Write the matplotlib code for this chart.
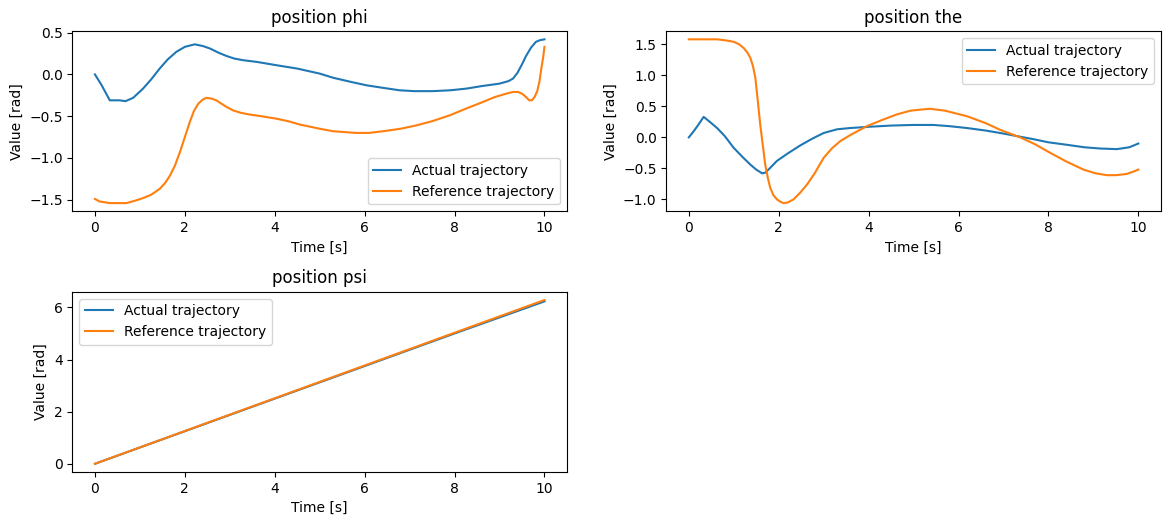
import numpy as np
import matplotlib
matplotlib.use("Agg")
import matplotlib.pyplot as plt

# phi
t_phi_act = [0, 0.15, 0.33, 0.45, 0.55, 0.68, 0.85, 1.07, 1.25, 1.44, 1.62, 1.81, 2.0, 2.22,
             2.4, 2.56, 2.75, 2.93, 3.1, 3.3, 3.6, 4.04, 4.5, 5.0, 5.3, 5.7, 6.04, 6.4, 6.78,
             7.1, 7.52, 7.9, 8.26, 8.6, 9.0, 9.2, 9.3, 9.4, 9.5, 9.59, 9.7, 9.81, 9.9, 10.0]
phi_act = [0.00, -0.13, -0.31, -0.31, -0.31, -0.32, -0.28, -0.17, -0.06, 0.07, 0.18, 0.27,
           0.33, 0.36, 0.34, 0.31, 0.26, 0.22, 0.19, 0.17, 0.15, 0.11, 0.07, 0.01, -0.04,
           -0.09, -0.13, -0.16, -0.19, -0.20, -0.20, -0.19, -0.17, -0.14, -0.11, -0.08,
           -0.05, 0.02, 0.12, 0.22, 0.32, 0.39, 0.41, 0.42]

t_phi_ref = [0, 0.1, 0.33, 0.5, 0.7, 0.9, 1.07, 1.25, 1.44, 1.56, 1.67, 1.78, 1.89, 2.0, 2.11,
             2.2, 2.3, 2.4, 2.48, 2.6, 2.7, 2.9, 3.07, 3.25, 3.44, 3.7, 4.04, 4.3, 4.56, 5.0,
             5.3, 5.81, 6.1, 6.41, 6.8, 7.15, 7.5, 7.89, 8.25, 8.63, 8.9, 9.15, 9.3, 9.41,
             9.5, 9.59, 9.66, 9.72, 9.78, 9.84, 9.89, 9.93, 9.97, 10.0]
phi_ref = [-1.49, -1.52, -1.54, -1.54, -1.54, -1.51, -1.48, -1.44, -1.37, -1.30, -1.21, -1.09,
           -0.93, -0.75, -0.57, -0.44, -0.35, -0.30, -0.28, -0.29, -0.31, -0.38, -0.43, -0.46,
           -0.48, -0.50, -0.53, -0.56, -0.60, -0.65, -0.68, -0.70, -0.70, -0.68, -0.65, -0.61,
           -0.56, -0.49, -0.41, -0.33, -0.27, -0.23, -0.21, -0.21, -0.23, -0.27, -0.31, -0.31,
           -0.27, -0.20, -0.08, 0.07, 0.20, 0.33]

# theta
t_the_act = [0, 0.1, 0.2, 0.33, 0.45, 0.63, 0.8, 1.0, 1.2, 1.37, 1.5, 1.63, 1.7, 1.8, 1.96, 2.2,
             2.48, 2.75, 3.0, 3.3, 3.59, 4.0, 4.5, 5.0, 5.44, 5.8, 6.19, 6.6, 6.93, 7.3, 7.67,
             8.0, 8.41, 8.8, 9.15, 9.52, 9.8, 10.0]
the_act = [0.00, 0.09, 0.19, 0.33, 0.26, 0.15, 0.02, -0.17, -0.32, -0.44, -0.52, -0.58, -0.57,
           -0.50, -0.38, -0.26, -0.13, -0.02, 0.07, 0.13, 0.15, 0.17, 0.19, 0.20, 0.20, 0.18,
           0.15, 0.11, 0.07, 0.02, -0.03, -0.08, -0.12, -0.16, -0.18, -0.19, -0.16, -0.10]

t_the_ref = [0, 0.3, 0.63, 0.85, 1.0, 1.12, 1.22, 1.3, 1.37, 1.43, 1.48, 1.53, 1.59, 1.65, 1.7,
             1.76, 1.81, 1.88, 1.96, 2.04, 2.11, 2.2, 2.33, 2.48, 2.63, 2.8, 3.0, 3.18, 3.37,
             3.6, 3.96, 4.3, 4.63, 4.93, 5.2, 5.37, 5.7, 6.19, 6.6, 6.93, 7.37, 7.7, 8.04, 8.4,
             8.78, 9.05, 9.3, 9.5, 9.74, 9.9, 10.0]
the_ref = [1.58, 1.58, 1.58, 1.56, 1.54, 1.50, 1.44, 1.37, 1.28, 1.14, 0.96, 0.62, 0.20, -0.15,
           -0.44, -0.66, -0.81, -0.93, -1.00, -1.04, -1.06, -1.05, -1.00, -0.89, -0.76, -0.58,
           -0.33, -0.18, -0.06, 0.04, 0.18, 0.28, 0.37, 0.43, 0.45, 0.46, 0.43, 0.34, 0.23,
           0.12, 0.00, -0.11, -0.25, -0.39, -0.52, -0.58, -0.61, -0.61, -0.59, -0.55, -0.52]

# psi
t_psi = [0, 2, 4, 6, 8, 10]
psi_act = [0.0, 1.25, 2.50, 3.75, 5.00, 6.23]
psi_ref = [0.0, 1.257, 2.513, 3.770, 5.027, 6.283]

panels = [
    ("position phi", t_phi_act, phi_act, t_phi_ref, phi_ref, "lower right"),
    ("position the", t_the_act, the_act, t_the_ref, the_ref, "upper right"),
    ("position psi", t_psi, psi_act, t_psi, psi_ref, "upper left"),
]

fig, axs = plt.subplots(2, 2, figsize=(11.65, 5.19), dpi=100)
fig.subplots_adjust(left=0.0622, right=0.9964, top=0.940, bottom=0.0906,
                    wspace=0.201, hspace=0.447)
axs = axs.flatten()

for ax, (title, ta, ya, tr, yr, loc) in zip(axs, panels):
    ax.plot(ta, ya, label="Actual trajectory")
    ax.plot(tr, yr, label="Reference trajectory")
    ax.set_title(title)
    ax.set_xlabel("Time [s]")
    ax.set_ylabel("Value [rad]")
    ax.legend(loc=loc)

axs[3].remove()

plt.savefig("out.png")
